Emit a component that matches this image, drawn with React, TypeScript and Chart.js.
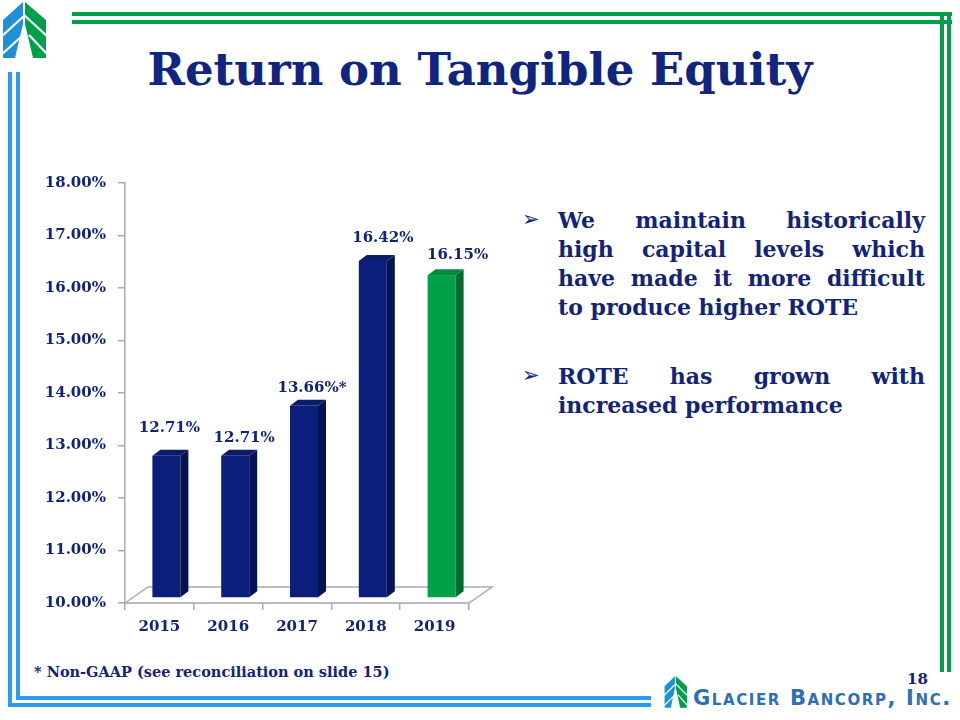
import React, { useEffect, useRef } from "react";
import { Chart, registerables } from "chart.js";

Chart.register(...registerables);

// ---- data ----
const years = ["2015", "2016", "2017", "2018", "2019"];
const rote = [12.71, 12.71, 13.66, 16.42, 16.15];
const labelSuffix = ["", "", "*", "", ""];
const yMin = 10;
const yMax = 18;
const yStep = 1;

const bullet1 = [
  "We maintain historically",
  "high capital levels which",
  "have made it more difficult",
  "to produce higher ROTE",
];
const bullet2 = ["ROTE has grown with", "increased performance"];

// ---- styles ----
const NAVY_TEXT = "#12237a";
const BAR_FRONT = ["#0b1f7a", "#0b1f7a", "#0b1f7a", "#0b1f7a", "#00a04a"];
const BAR_SIDE = ["#061352", "#061352", "#061352", "#061352", "#006a2f"];
const BAR_TOP = ["#0a1b68", "#0a1b68", "#0a1b68", "#0a1b68", "#008a3f"];
const AXIS_GRAY = "#a9a9bb";
const SERIF = "'DejaVu Serif', serif";
const labelDx = [10, 16, 15, 17, 23];
const labelDy = [28, 18, 18, 23, 20];
const BLUE = "#2b9af3";
const GREEN = "#00a04a";

const threeD = {
  id: "threeD",
  beforeDatasetsDraw(chart: any) {
    const ctx = chart.ctx;
    const ys = chart.scales.y;
    const { left, right } = chart.chartArea;
    const b = ys.getPixelForValue(yMin);
    ctx.save();
    ctx.beginPath();
    ctx.moveTo(left, b);
    ctx.lineTo(left + 23, b - 16);
    ctx.lineTo(right + 23, b - 16);
    ctx.lineTo(right, b);
    ctx.closePath();
    ctx.fillStyle = "#ffffff";
    ctx.fill();
    ctx.strokeStyle = AXIS_GRAY;
    ctx.lineWidth = 1.5;
    ctx.stroke();
    ctx.restore();
  },
  afterDatasetsDraw(chart: any) {
    const ctx = chart.ctx;
    const meta = chart.getDatasetMeta(0);
    const dx = 8,
      dy = 6,
      ox = 7,
      oy = 5;
    ctx.save();
    meta.data.forEach((el: any, i: number) => {
      const p = el.getProps(["x", "y", "base", "width"], true);
      const L = p.x + ox - p.width / 2;
      const R = p.x + ox + p.width / 2;
      const T = p.y - oy;
      const B = p.base - oy;
      ctx.fillStyle = BAR_FRONT[i];
      ctx.fillRect(L, T, R - L, B - T);
      ctx.beginPath();
      ctx.moveTo(R, T);
      ctx.lineTo(R + dx, T - dy);
      ctx.lineTo(R + dx, B - dy);
      ctx.lineTo(R, B);
      ctx.closePath();
      ctx.fillStyle = BAR_SIDE[i];
      ctx.fill();
      ctx.beginPath();
      ctx.moveTo(L, T);
      ctx.lineTo(L + dx, T - dy);
      ctx.lineTo(R + dx, T - dy);
      ctx.lineTo(R, T);
      ctx.closePath();
      ctx.fillStyle = BAR_TOP[i];
      ctx.fill();
      ctx.fillStyle = NAVY_TEXT;
      ctx.font = `bold 15px ${SERIF}`;
      ctx.textAlign = "center";
      ctx.textBaseline = "middle";
      const txt = rote[i].toFixed(2) + "%" + labelSuffix[i];
      ctx.fillText(txt, p.x + labelDx[i], T - labelDy[i]);
    });
    ctx.restore();
  },
};

function Logo({ style }: { style: React.CSSProperties }) {
  return (
    <svg viewBox="0 0 50 60" preserveAspectRatio="none" style={style}>
      <polygon points="3,20 23,2 23,24 15,58 3,58" fill="#1f8fd6" />
      <polygon points="25,2 46,20 46,58 33,58 25,24" fill="#00a04a" />
      <line x1="1" y1="37" x2="25" y2="15" stroke="#fff" strokeWidth="2.2" />
      <line x1="1" y1="55" x2="21" y2="37" stroke="#fff" strokeWidth="2.2" />
      <line x1="24" y1="15" x2="48" y2="37" stroke="#fff" strokeWidth="2.2" />
      <line x1="29" y1="35" x2="48" y2="55" stroke="#fff" strokeWidth="2.2" />
    </svg>
  );
}

const bar = (l: number, t: number, w: number, h: number, c: string): React.CSSProperties => ({
  position: "absolute",
  left: l,
  top: t,
  width: w,
  height: h,
  background: c,
});

export default function App() {
  const ref = useRef<HTMLCanvasElement>(null);

  useEffect(() => {
    document.body.style.margin = "0";
    const chart = new Chart(ref.current!, {
      type: "bar",
      data: {
        labels: years,
        datasets: [
          {
            data: rote,
            backgroundColor: "rgba(0,0,0,0)",
            categoryPercentage: 1,
            barPercentage: 0.407,
            base: yMin,
          },
        ],
      },
      plugins: [threeD],
      options: {
        responsive: false,
        animation: false,
        layout: { padding: { top: 33, right: 51, left: 0, bottom: 0 } },
        plugins: {
          legend: { display: false },
          tooltip: { enabled: false },
          title: { display: false },
        },
        scales: {
          x: {
            afterFit: (s: any) => {
              s.height = 47;
            },
            grid: {
              drawOnChartArea: false,
              tickLength: 7,
              offset: true,
              color: AXIS_GRAY,
              lineWidth: 1.5,
            },
            border: { color: AXIS_GRAY, width: 1.5 },
            ticks: {
              color: NAVY_TEXT,
              font: { family: SERIF, size: 15, weight: "bold" },
              padding: 8,
            },
          },
          y: {
            min: yMin,
            max: yMax,
            afterFit: (s: any) => {
              s.width = 125;
            },
            grid: {
              drawOnChartArea: false,
              tickLength: 7,
              color: AXIS_GRAY,
              lineWidth: 1.5,
            },
            border: { color: AXIS_GRAY, width: 1.5 },
            ticks: {
              stepSize: yStep,
              color: NAVY_TEXT,
              font: { family: SERIF, size: 15, weight: "bold" },
              padding: 12,
              callback: (v: any) => Number(v).toFixed(2) + "%",
            },
          },
        },
      },
    } as any);
    return () => chart.destroy();
  }, []);

  const lineStyle = (last: boolean): React.CSSProperties => ({
    textAlign: last ? "left" : "justify",
    textAlignLast: last ? "left" : "justify",
    whiteSpace: "nowrap",
    height: 29,
  });

  const arrowStyle = (top: number): React.CSSProperties => ({
    position: "absolute",
    left: 522,
    top,
    fontSize: 21,
    lineHeight: "29px",
    fontFamily: "'DejaVu Sans', sans-serif",
    fontWeight: "bold",
    color: NAVY_TEXT,
  });

  return (
    <div
      style={{
        position: "absolute",
        left: 0,
        top: 0,
        width: 960,
        height: 720,
        overflow: "hidden",
        background: "#ffffff",
        fontFamily: SERIF,
      }}
    >
      {/* blue border */}
      <div style={bar(8, 72, 4, 635, BLUE)} />
      <div style={bar(16, 72, 4, 628, BLUE)} />
      <div style={bar(16, 696, 635, 4, BLUE)} />
      <div style={bar(8, 703, 643, 4, BLUE)} />
      {/* green border */}
      <div style={bar(72, 12, 880, 4, GREEN)} />
      <div style={bar(72, 20, 880, 4, GREEN)} />
      <div style={bar(940, 12, 4, 660, GREEN)} />
      <div style={bar(947, 12, 4, 660, GREEN)} />

      <Logo style={{ position: "absolute", left: 0, top: 0, width: 50, height: 60 }} />

      <div
        style={{
          position: "absolute",
          left: 0,
          top: 47,
          width: 960,
          textAlign: "center",
          fontSize: 45,
          lineHeight: "45px",
          fontWeight: "bold",
          color: "#10257f",
        }}
      >
        Return on Tangible Equity
      </div>

      <canvas
        ref={ref}
        width={520}
        height={500}
        style={{ position: "absolute", left: 0, top: 150, width: 520, height: 500 }}
      />

      {/* bullets */}
      <div
        style={{
          position: "absolute",
          left: 558,
          top: 206,
          width: 367,
          fontSize: 22,
          lineHeight: "29px",
          fontWeight: "bold",
          color: NAVY_TEXT,
        }}
      >
        {bullet1.map((t, i) => (
          <div key={i} style={lineStyle(i === bullet1.length - 1)}>
            {t}
          </div>
        ))}
        <div style={{ height: 40 }} />
        {bullet2.map((t, i) => (
          <div key={i} style={lineStyle(i === bullet2.length - 1)}>
            {t}
          </div>
        ))}
      </div>
      <div style={arrowStyle(205)}>➢</div>
      <div style={arrowStyle(361)}>➢</div>

      {/* footnote */}
      <div
        style={{
          position: "absolute",
          left: 34,
          top: 662,
          fontSize: 14.5,
          lineHeight: "20px",
          fontWeight: "bold",
          color: NAVY_TEXT,
          whiteSpace: "nowrap",
        }}
      >
        * Non-GAAP (see reconciliation on slide 15)
      </div>

      {/* page number */}
      <div
        style={{
          position: "absolute",
          left: 907,
          top: 670,
          fontSize: 15,
          lineHeight: "18px",
          fontWeight: "bold",
          color: NAVY_TEXT,
        }}
      >
        18
      </div>

      {/* company logo */}
      <Logo style={{ position: "absolute", left: 663, top: 675, width: 26, height: 34 }} />
      <div
        style={{
          position: "absolute",
          left: 693,
          top: 686,
          fontSize: 21,
          lineHeight: "24px",
          fontWeight: "bold",
          fontVariant: "small-caps",
          letterSpacing: 1.6,
          fontFamily: "'DejaVu Sans', sans-serif",
          color: "#2d6fb7",
          whiteSpace: "nowrap",
        }}
      >
        Glacier Bancorp, Inc.
      </div>
    </div>
  );
}
